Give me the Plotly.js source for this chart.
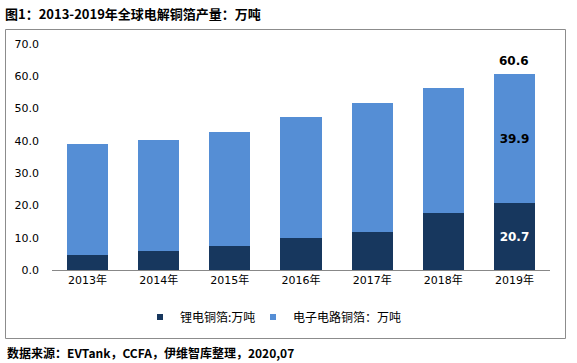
<!DOCTYPE html>
<html>
<head>
<meta charset="utf-8">
<script src="https://cdn.plot.ly/plotly-3.0.1.min.js"></script>
<style>html,body{margin:0;padding:0;background:#fff;}#chart{width:577px;height:363px;}</style>
</head>
<body>
<div id="chart"></div>
<script>
var years = ['2013年','2014年','2015年','2016年','2017年','2018年','2019年'];
var lithiumFoil = [4.6, 5.9, 7.5, 10.0, 11.8, 17.6, 20.7];
var circuitFoil = [34.4, 34.3, 35.2, 37.4, 40.0, 38.7, 39.9];
var labeledYear = '2019年';
var titleText = '图1：2013-2019年全球电解铜箔产量：万吨';
var sourceText = '数据来源：EVTank，CCFA，伊维智库整理，2020,07';
var seriesNames = ['锂电铜箔:万吨', '电子电路铜箔：万吨'];
var seriesColors = ['#17375E', '#558ED5'];

var totals = years.map(function(y, i){ return lithiumFoil[i] + circuitFoil[i]; });
function labelsFor(arr){ return years.map(function(y,i){ return y === labeledYear ? arr[i].toFixed(1) : ''; }); }

var FONT = '"DejaVu Sans", "Noto Sans CJK SC", sans-serif';
var CJK = '"Noto Sans CJK SC", "DejaVu Sans", sans-serif';

var traces = [
  {
    type: 'bar', name: seriesNames[0], x: years, y: lithiumFoil, showlegend: false,
    marker: {color: seriesColors[0]},
    text: labelsFor(lithiumFoil), textposition: 'inside', insidetextanchor: 'middle',
    textfont: {color: '#ffffff', size: 12, family: FONT, weight: 'bold'},
    hoverinfo: 'none'
  },
  {
    type: 'bar', name: seriesNames[1], x: years, y: circuitFoil, showlegend: false,
    marker: {color: seriesColors[1]},
    text: labelsFor(circuitFoil), textposition: 'inside', insidetextanchor: 'middle',
    textfont: {color: '#000000', size: 12, family: FONT, weight: 'bold'},
    hoverinfo: 'none'
  },
  { type: 'scatter', mode: 'markers', name: seriesNames[0], x: [null], y: [null], legend: 'legend',
    marker: {symbol: 'square', size: 6, color: seriesColors[0]}, hoverinfo: 'none' },
  { type: 'scatter', mode: 'markers', name: seriesNames[1], x: [null], y: [null], legend: 'legend2',
    marker: {symbol: 'square', size: 6, color: seriesColors[1]}, hoverinfo: 'none' }
];

var idx = years.indexOf(labeledYear);
var W = 577, H = 363, L = 52, R = 27, T = 44, B = 93;
var pw = W - L - R, ph = H - T - B;
function px(x){ return (x - L) / pw; }
function py(y){ return (H - B - y) / ph; }

function legendAt(xpx){
  return {
    orientation: 'h', xref: 'container', yref: 'container',
    x: xpx / W, xanchor: 'left', y: 1 - 317 / H, yanchor: 'middle',
    font: {family: CJK, size: 12, color: '#000000'},
    itemwidth: 30, bgcolor: 'rgba(0,0,0,0)'
  };
}

var layout = {
  width: W, height: H,
  margin: {l: L, r: R, t: T, b: B, pad: 0},
  paper_bgcolor: '#ffffff', plot_bgcolor: '#ffffff',
  barmode: 'stack', bargap: 0.42,
  showlegend: true,
  font: {family: FONT, size: 11, color: '#000000'},
  title: {
    text: '<b>' + titleText + '</b>',
    x: 5 / W, xanchor: 'left', xref: 'container',
    y: 1 - 14 / H, yanchor: 'middle', yref: 'container',
    font: {family: CJK, size: 13, color: '#000000'}
  },
  xaxis: {
    type: 'category', showgrid: false, zeroline: false,
    showline: true, linecolor: '#888888', linewidth: 1,
    ticks: '', tickfont: {family: FONT, size: 11, color: '#000000'},
    fixedrange: true
  },
  yaxis: {
    range: [0, 70], dtick: 10, tickformat: '.1f',
    showgrid: false, zeroline: false, showline: false,
    ticks: '', ticklabelstandoff: 12,
    tickfont: {family: FONT, size: 11, color: '#000000'},
    fixedrange: true
  },
  legend: legendAt(140),
  legend2: legendAt(253),
  shapes: [{
    type: 'rect', xref: 'paper', yref: 'paper',
    x0: px(5.5), x1: px(565.5), y0: py(338.5), y1: py(29.5),
    line: {color: '#8c8c8c', width: 1}, fillcolor: 'rgba(0,0,0,0)', layer: 'below'
  }],
  annotations: [
    {
      x: labeledYear, y: totals[idx], xref: 'x', yref: 'y',
      text: '<b>' + totals[idx].toFixed(1) + '</b>', showarrow: false,
      yanchor: 'bottom', yshift: 4,
      font: {family: FONT, size: 12, color: '#000000'}
    },
    {
      x: px(5), y: py(352), xref: 'paper', yref: 'paper',
      xanchor: 'left', yanchor: 'middle', showarrow: false,
      text: '<b>' + sourceText + '</b>',
      font: {family: CJK, size: 12, color: '#000000'}
    }
  ]
};

Plotly.newPlot('chart', traces, layout, {staticPlot: true, displayModeBar: false});
</script>
</body>
</html>
